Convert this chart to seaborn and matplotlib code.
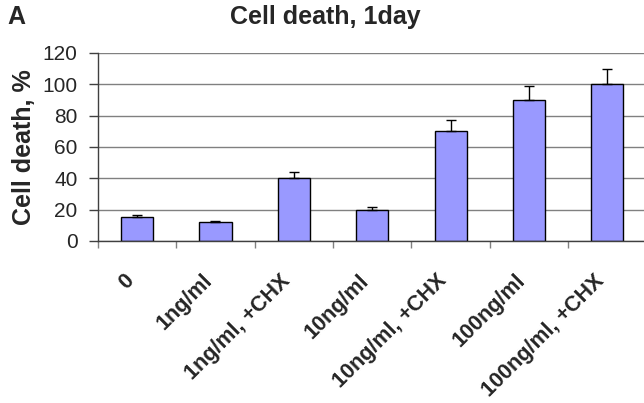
import matplotlib
matplotlib.use("Agg")
import matplotlib.pyplot as plt
import matplotlib.transforms as mtransforms
import seaborn as sns
import pandas as pd
import numpy as np

categories = ["0", "1ng/ml", "1ng/ml, +CHX", "10ng/ml", "10ng/ml, +CHX", "100ng/ml", "100ng/ml, +CHX"]
values = [15, 12, 40, 20, 70, 90, 100]
errors = [1.5, 0.8, 4, 2, 7, 9, 10]
yticks = [0, 20, 40, 60, 80, 100, 120]

sns.set_style("white")
plt.rcParams['font.family'] = ['Liberation Sans', 'DejaVu Sans']

df = pd.DataFrame({"cat": categories, "val": values})

fig = plt.figure(figsize=(6.44, 4.03), dpi=100)
ax = fig.add_axes([0.152, 0.402, 0.852, 0.4665])

ax.set_axisbelow(True)
for t in yticks:
    ax.axhline(t, color="#808080", lw=1, zorder=0)

sns.barplot(data=df, x="cat", y="val", color="#9999FF", saturation=1,
            width=0.41, edgecolor="black", linewidth=1, ax=ax, zorder=2)

x = np.arange(len(categories))
ax.errorbar(x, values, yerr=[np.zeros(len(errors)), errors], fmt="none",
            ecolor="black", elinewidth=1, capsize=3.3, capthick=1, zorder=3)

ax.set_xlim(-0.5, len(categories) - 0.5)
ax.set_ylim(0, 120)
ax.set_yticks(yticks)
ax.set_yticklabels([str(t) for t in yticks], fontsize=15)
ax.tick_params(axis="y", length=6.5, width=1, color="#404040", direction="out", left=True, pad=8)

# x tick marks at category boundaries
ax.set_xticks(np.arange(len(categories) + 1) - 0.5, minor=True)
ax.tick_params(axis="x", which="minor", length=5, width=1, color="#808080", direction="out", bottom=True)
ax.set_xticks(x)
ax.tick_params(axis="x", which="major", length=0, pad=21)
ax.set_xticklabels(categories, rotation=45, ha="right", va="top", rotation_mode="anchor",
                   fontsize=15.5, fontweight="bold")
for lab in ax.get_xticklabels():
    lab.set_transform(lab.get_transform() + mtransforms.ScaledTranslation(-0.14, 0, fig.dpi_scale_trans))

for s in ["top", "right"]:
    ax.spines[s].set_visible(False)
ax.spines["left"].set_color("#404040")
ax.spines["bottom"].set_color("#404040")
ax.spines["left"].set_linewidth(1)
ax.spines["bottom"].set_linewidth(1)

ax.set_xlabel("")
ax.set_ylabel("Cell death, %", fontsize=18, fontweight="bold")
ax.yaxis.set_label_coords(-0.1125, 0.5)

fig.text(0.505, 0.988, "Cell death, 1day", ha="center", va="top", fontsize=18, fontweight="bold")
fig.text(0.012, 0.988, "A", ha="left", va="top", fontsize=18, fontweight="bold")

fig.savefig("out.png", dpi=100)
